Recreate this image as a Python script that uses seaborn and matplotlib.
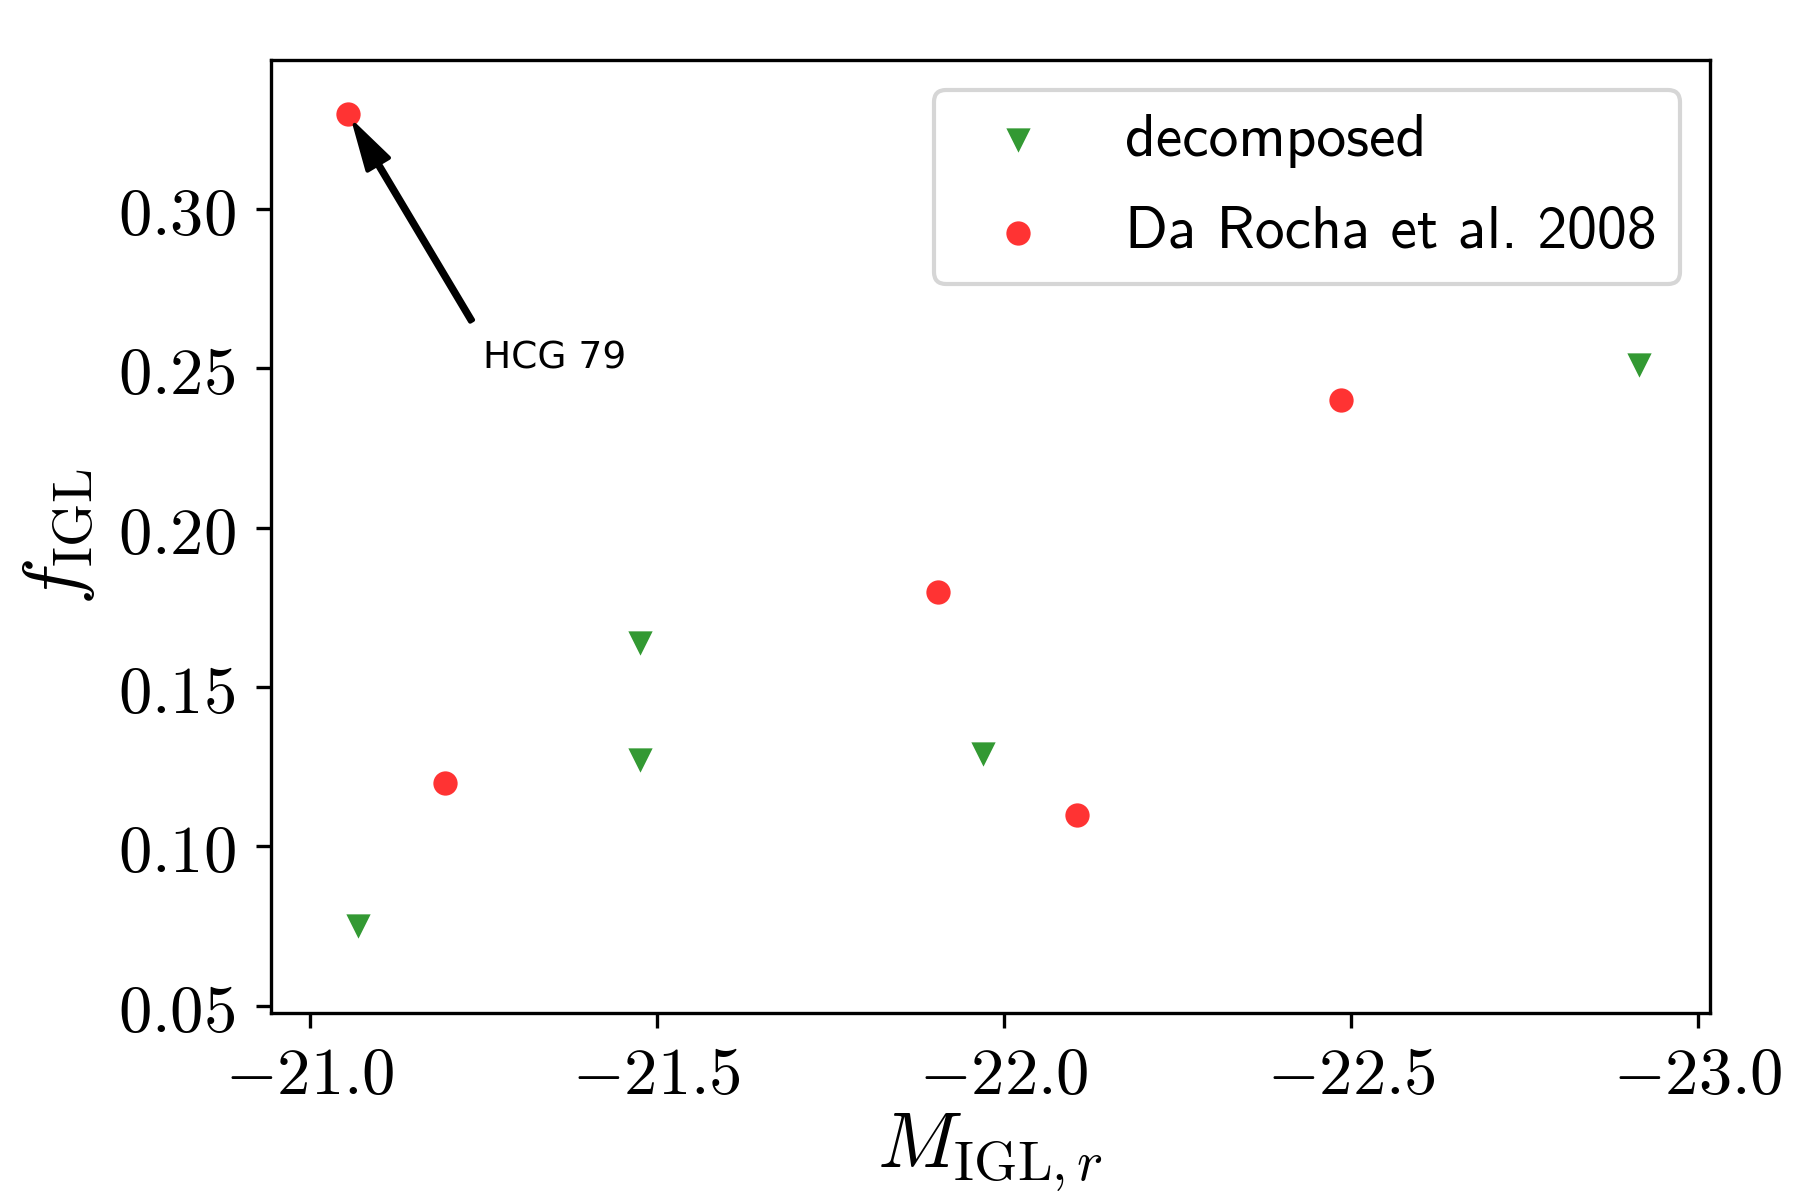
import matplotlib
matplotlib.use("Agg")
import matplotlib.pyplot as plt
import seaborn as sns
import pandas as pd
from matplotlib.ticker import FuncFormatter

# ---- data ----
decomposed_M = [-21.07, -21.475, -21.475, -21.97, -22.915]
decomposed_f = [0.075, 0.164, 0.127, 0.129, 0.251]

darocha_M = [-21.055, -21.195, -21.905, -22.105, -22.485]
darocha_f = [0.330, 0.120, 0.180, 0.110, 0.240]

x_ticks = [-21.0, -21.5, -22.0, -22.5, -23.0]
y_ticks = [0.05, 0.10, 0.15, 0.20, 0.25, 0.30]

annot_label = "HCG 79"
annot_xy = (-21.055, 0.330)
annot_text_xy = (-21.25, 0.25)

plt.rcParams['mathtext.fontset'] = 'cm'

fig = plt.figure(figsize=(6, 4), dpi=300)
ax = fig.add_axes([0.1505, 0.156, 0.7995, 0.794])

df_dec = pd.DataFrame({"M": decomposed_M, "f": decomposed_f})
df_dr = pd.DataFrame({"M": darocha_M, "f": darocha_f})

sns.scatterplot(data=df_dec, x="M", y="f", ax=ax, marker="v", color="green",
                alpha=0.8, s=34, linewidth=0, label="decomposed")
sns.scatterplot(data=df_dr, x="M", y="f", ax=ax, marker="o", color="red",
                alpha=0.8, s=34, linewidth=0, label="Da Rocha et al. 2008")

ax.annotate(annot_label, xy=annot_xy, xytext=annot_text_xy, fontsize=9,
            family="DejaVu Sans",
            arrowprops=dict(facecolor="black", shrink=0.05, width=0.8,
                            headwidth=6, headlength=11))

ax.set_xlim(-20.944, -23.017)
ax.set_ylim(0.0478, 0.3468)
ax.set_xticks(x_ticks)
ax.set_yticks(y_ticks)
ax.xaxis.set_major_formatter(FuncFormatter(lambda v, p: f"${v:.1f}$"))
ax.yaxis.set_major_formatter(FuncFormatter(lambda v, p: f"${v:.2f}$"))
ax.tick_params(labelsize=16)
ax.tick_params(axis="y", pad=5)

ax.set_xlabel(r"$M_{\mathrm{IGL},r}$", fontsize=19, labelpad=1)
ax.set_ylabel(r"$f_{\mathrm{IGL}}$", fontsize=19, labelpad=5)

leg = ax.legend(loc="upper right", prop={"family": "cmss10", "size": 14.3},
                labelspacing=0.65)

fig.savefig("out.png", dpi=300)
